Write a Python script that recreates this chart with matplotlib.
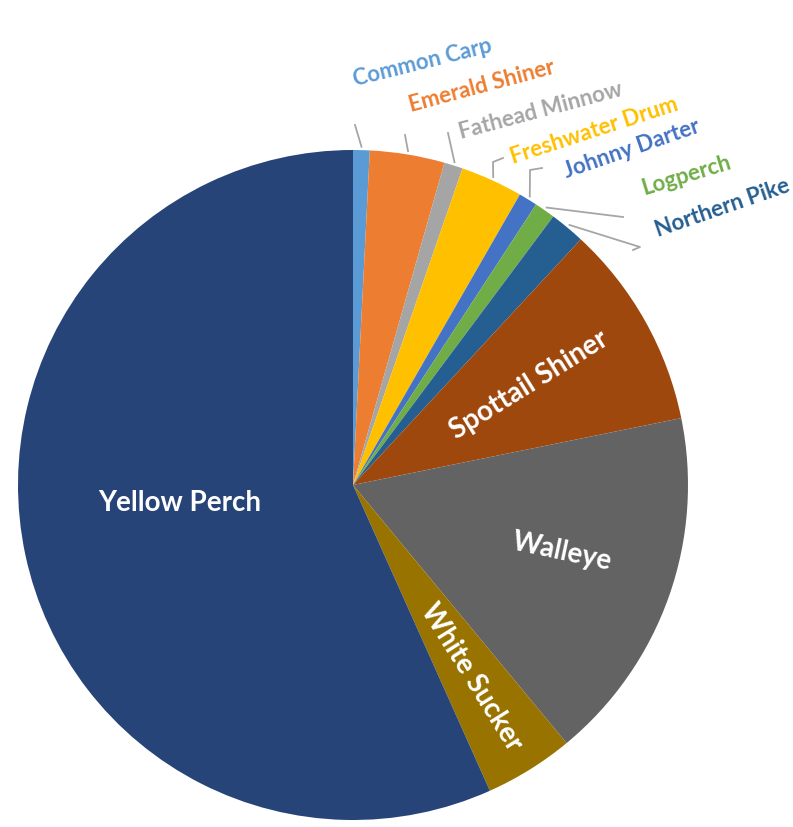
import numpy as np
import matplotlib.pyplot as plt

species = ['Common Carp', 'Emerald Shiner', 'Fathead Minnow', 'Freshwater Drum',
           'Johnny Darter', 'Logperch', 'Northern Pike', 'Spottail Shiner',
           'Walleye', 'White Sucker', 'Yellow Perch']
shares = [0.8, 3.6, 0.9, 3.0, 0.9, 1.0, 1.7, 9.9, 17.2, 4.3, 56.7]
colors = ['#5B9BD5', '#ED7D31', '#A5A5A5', '#FFC000', '#4472C4', '#70AD47',
          '#255E91', '#9E480E', '#636363', '#997300', '#264478']

W, H = 793, 827
fig = plt.figure(figsize=(W / 100, H / 100), dpi=100)
ax = fig.add_axes([0, 0, 1, 1])

cx, cy, r = 353, H - 485, 335
wedges, _ = ax.pie(shares, colors=colors, startangle=90, counterclock=False,
                   center=(cx, cy), radius=r, wedgeprops=dict(linewidth=0))
ax.set_xlim(0, W)
ax.set_ylim(0, H)
ax.set_aspect('equal')
ax.axis('off')

font = ['Lato', 'DejaVu Sans']

# outside labels: (text x, text y, rotation, leader knee) in pixel coords (y from top)
outside = {
    'Common Carp': (422, 63, 14, None),
    'Emerald Shiner': (482, 86, 15, None),
    'Fathead Minnow': (541, 111, 15, None),
    'Freshwater Drum': (594, 131, 18, (503, 158)),
    'Johnny Darter': (632, 149, 19, (542, 168)),
    'Logperch': (686, 175, 17, None),
    'Northern Pike': (722, 208, 19, (633, 250)),
}
ends = {
    'Common Carp': (355, 125),
    'Emerald Shiner': (405, 135),
    'Fathead Minnow': (448, 133),
    'Freshwater Drum': (493, 162),
    'Johnny Darter': (530, 170),
    'Logperch': (623, 217),
    'Northern Pike': (640, 247),
}

for w, name, c in zip(wedges, species, colors):
    if name not in outside:
        continue
    mid = np.deg2rad((w.theta1 + w.theta2) / 2)
    sx, sy = cx + r * 1.01 * np.cos(mid), cy + r * 1.01 * np.sin(mid)
    tx, ty, rot, knee = outside[name]
    ex, ey = ends[name]
    xs, ys = [sx, ex], [sy, H - ey]
    if knee is not None:
        xs.append(knee[0])
        ys.append(H - knee[1])
    ax.plot(xs, ys, color='#A6A6A6', lw=1.3)
    ax.text(tx, H - ty, name, color=c, fontsize=16, fontweight='bold',
            family=font, rotation=rot, ha='center', va='center')

inside = {
    'Spottail Shiner': (529, 385, 32),
    'Walleye': (562, 552, -12),
    'White Sucker': (471, 677, -58),
    'Yellow Perch': (180, 503, 0),
}
for name, (tx, ty, rot) in inside.items():
    ax.text(tx, H - ty, name, color='white', fontsize=20, fontweight='bold',
            family=font, rotation=rot, ha='center', va='center')

fig.savefig('out.png', dpi=100)
